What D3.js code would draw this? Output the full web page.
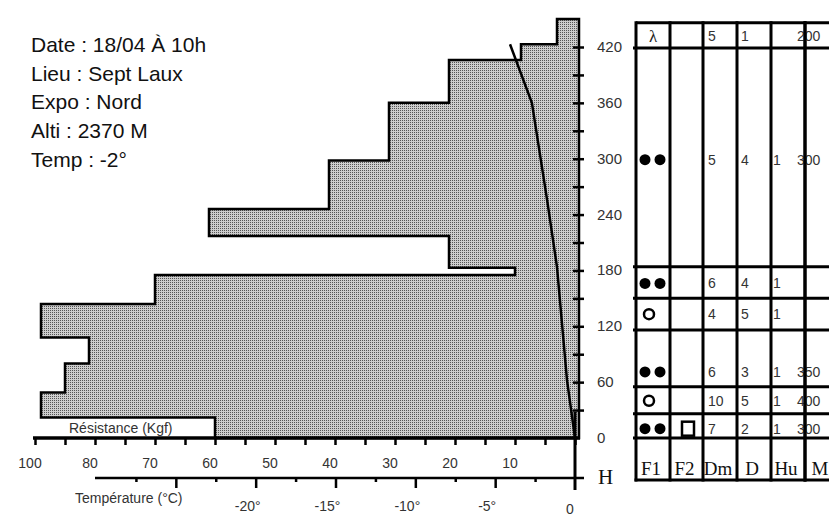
<!DOCTYPE html>
<html>
<head>
<meta charset="utf-8">
<script src="https://cdn.jsdelivr.net/npm/d3@7"></script>
<style>
  body { margin: 0; background: #fff; }
  svg { display: block; }
</style>
</head>
<body>
<svg id="chart"></svg>
<script>
// --- data ---
var infoLines = ["Date : 18/04 À 10h", "Lieu : Sept Laux", "Expo : Nord", "Alti : 2370 M", "Temp : -2°"];

// ram resistance profile (layer limits in cm, resistance in kgf)
var layerBottoms = [0, 22, 49, 80, 108, 144, 175, 183, 217, 246, 298, 360, 406, 423];
var layerTops    = [22, 49, 80, 108, 144, 175, 183, 217, 246, 298, 360, 406, 423, 450];
var resistance   = [60, 89, 85, 81, 89, 70, 10, 21, 61, 41, 31, 21, 9, 3];

// temperature profile
var tempHeights = [0, 62, 184, 256, 360, 423];
var tempValues  = [0, -0.5, -1.13, -1.75, -2.7, -4.07];

// axis ticks
var resTickValues = [90, 80, 70, 60, 50, 40, 30, 20, 10];
var resTickLabels = ["100", "80", "70", "60", "50", "40", "30", "20", "10"];
var tempTickValues = [-20, -15, -10, -5, 0];
var tempTickLabels = ["-20°", "-15°", "-10°", "-5°", "0"];
var heightTickValues = [0, 60, 120, 180, 240, 300, 360, 420];

// observation table (rows top -> bottom)
var tableColumns = ["F1", "F2", "Dm", "D", "Hu", "M"];
var rowTops    = [446, 419, 184, 150, 116, 55, 26];
var rowBottoms = [419, 184, 150, 116, 55, 26, 0];
var rowLabelH  = [432, 299, 166, 133, 71, 40, 10];
var rowF1 = ["lambda", "dots", "dots", "ring", "dots", "ring", "dots"];
var rowF2 = ["", "", "", "", "", "", "square"];
var rowDm = ["5", "5", "6", "4", "6", "10", "7"];
var rowD  = ["1", "4", "4", "5", "3", "5", "2"];
var rowHu = ["", "1", "1", "1", "1", "1", "1"];
var rowM  = ["200", "300", "", "", "350", "400", "300"];

// --- helpers ---
var addGroup = function(parent, id) {
    return parent.append("g").attr("id", id);
};
var drawLine = function(parent, color, width, x1, x2, y1, y2) {
    return parent.append("line")
        .attr("x1", x1).attr("x2", x2)
        .attr("y1", y1).attr("y2", y2)
        .attr("stroke", color)
        .attr("stroke-width", width);
};
var drawText = function(parent, txt, x, y, size, family, color, anchor) {
    return parent.append("text")
        .attr("x", x).attr("y", y)
        .attr("font-size", size)
        .attr("font-family", family)
        .attr("fill", color)
        .attr("text-anchor", anchor || "start")
        .text(txt);
};

var W = 829, H = 516;
var sans = "Arial, 'Liberation Sans', sans-serif";
var serif = "'Times New Roman', 'Liberation Serif', serif";
var labelColor = "#333";

var svg = d3.select("#chart").attr("width", W).attr("height", H);

// dotted grey fill (one dark pixel per 2x2 cell)
var pat = svg.append("defs").append("pattern")
    .attr("id", "dots")
    .attr("patternUnits", "userSpaceOnUse")
    .attr("x", 0).attr("y", 0)
    .attr("width", 2).attr("height", 2);
pat.append("rect").attr("width", 2).attr("height", 2).attr("fill", "#cdcdcd")
    .attr("shape-rendering", "crispEdges");
pat.append("rect").attr("x", 0).attr("y", 0).attr("width", 1).attr("height", 1).attr("fill", "#555")
    .attr("shape-rendering", "crispEdges");

// scales
var xRes = d3.scaleLinear().domain([0, 90]).range([575, 35]);
var yH = d3.scaleLinear().domain([0, 420]).range([438, 47]);
var xTemp = d3.scaleLinear().domain([-30, 0]).range([96, 575]);
var profileRight = xRes(0) + 4;

// --- info text ---
var info = addGroup(svg, "info");
infoLines.forEach(function(t, i) {
    drawText(info, t, 31, 52 + i * 28.7, 21, sans, "#111");
});

// --- resistance profile ---
var pts = [[profileRight, yH(0)]];
for (var i = 0; i < resistance.length; ++i) {
    pts.push([xRes(resistance[i]), yH(layerBottoms[i])]);
    pts.push([xRes(resistance[i]), yH(layerTops[i])]);
}
pts.push([profileRight, yH(layerTops[layerTops.length - 1])]);
svg.append("path")
    .attr("d", d3.line()(pts) + "Z")
    .attr("fill", "url(#dots)")
    .attr("stroke", "#000")
    .attr("stroke-width", 2.5)
    .attr("stroke-linejoin", "miter");

// temperature curve
svg.append("path")
    .datum(tempHeights.map(function(h, i) { return [h, tempValues[i]]; }))
    .attr("d", d3.line()
        .x(function(d) { return xTemp(d[1]); })
        .y(function(d) { return yH(d[0]); }))
    .attr("fill", "none")
    .attr("stroke", "#000")
    .attr("stroke-width", 2.5);

// --- resistance axis ---
var resAxis = addGroup(svg, "res-axis").attr("transform", "translate(0," + yH(0) + ")");
resAxis.call(d3.axisBottom(xRes).tickValues(d3.range(0, 91, 5)).tickSize(7).tickFormat(""));
resAxis.select(".domain").remove();
resAxis.selectAll("line").attr("stroke", "#000").attr("stroke-width", 2.5);
drawLine(resAxis, "#000", 3.5, xRes(90) - 2, profileRight + 1, 0, 0);
resTickValues.forEach(function(v, i) {
    drawText(resAxis, resTickLabels[i], xRes(v) - 5, 30, 14, sans, labelColor, "middle");
});
drawText(svg, "Résistance (Kgf)", 69, 433, 14, sans, labelColor);

// --- temperature axis ---
var tY = 478;
var tempAxis = addGroup(svg, "temp-axis").attr("transform", "translate(0," + tY + ")");
var major = addGroup(tempAxis, "major");
major.call(d3.axisBottom(xTemp).tickValues([-25, -20, -15, -10, -5]).tickSize(10).tickFormat(""));
var minor = addGroup(tempAxis, "minor");
minor.call(d3.axisBottom(xTemp).tickValues([-27.5, -22.5, -17.5, -12.5, -7.5, -2.5]).tickSize(4).tickFormat(""));
tempAxis.selectAll(".domain").remove();
tempAxis.selectAll("line").attr("stroke", "#000").attr("stroke-width", 2.5);
drawLine(tempAxis, "#000", 2.5, xTemp(-30) - 1, xTemp(0) + 9, 0, 0);
tempTickValues.forEach(function(v, i) {
    drawText(tempAxis, tempTickLabels[i], xTemp(v) - (v === 0 ? 5 : 8), v === 0 ? 36 : 33, 14, sans, labelColor, "middle");
});
drawText(svg, "Température (°C)", 75, 503, 14, sans, labelColor);

// H axis line (temperature zero)
drawLine(svg, "#000", 3, xTemp(0), xTemp(0), yH(0) - 26, 490);
drawText(svg, "H", 598, 484, 21, serif, "#111");

// --- height axis ---
var hAxis = addGroup(svg, "h-axis").attr("transform", "translate(" + (profileRight - 6) + ",0)");
hAxis.call(d3.axisRight(yH).tickValues(d3.range(30, 421, 30)).tickSize(11).tickFormat(""));
hAxis.select(".domain").remove();
hAxis.selectAll("line").attr("stroke", "#000").attr("stroke-width", 2.5);
heightTickValues.forEach(function(v) {
    drawText(svg, v, 597, yH(v) + 5, 15, sans, labelColor);
});

// --- table ---
var table = addGroup(svg, "table");
var colX = [636, 670, 703, 737, 771, 805, 839];
var headerBottom = 480;
var tableTop = yH(rowTops[0]);
colX.forEach(function(x) {
    drawLine(table, "#000", 3, x, x, tableTop - 1.5, headerBottom + 1.5);
});
drawLine(table, "#000", 3, colX[0], W, tableTop, tableTop);
rowBottoms.forEach(function(h) {
    drawLine(table, "#000", 3, 633, W, yH(h), yH(h));
});
drawLine(table, "#000", 3, colX[0] - 1.5, W, headerBottom, headerBottom);

tableColumns.forEach(function(c, i) {
    drawText(table, c, (colX[i] + colX[i + 1]) / 2 - 2, 475, 19, serif, "#111", "middle");
});

var textX = { Dm: 708, D: 741, Hu: 773, M: 797 };
rowF1.forEach(function(f, i) {
    var cy = yH(rowLabelH[i]);
    if (f === "dots") {
        table.append("circle").attr("cx", 645).attr("cy", cy).attr("r", 5.5).attr("fill", "#000");
        table.append("circle").attr("cx", 660).attr("cy", cy).attr("r", 5.5).attr("fill", "#000");
    } else if (f === "ring") {
        table.append("circle").attr("cx", 649).attr("cy", cy).attr("r", 5)
            .attr("fill", "none").attr("stroke", "#000").attr("stroke-width", 2.5);
    } else if (f === "lambda") {
        drawText(table, "λ", 653, cy + 6, 17, serif, "#222", "middle");
    }
    if (rowF2[i] === "square") {
        table.append("rect").attr("x", 682).attr("y", cy - 7).attr("width", 12).attr("height", 14)
            .attr("fill", "none").attr("stroke", "#000").attr("stroke-width", 2.5);
    }
    drawText(table, rowDm[i], textX.Dm, cy + 5, 14, sans, labelColor);
    drawText(table, rowD[i], textX.D, cy + 5, 14, sans, labelColor);
    drawText(table, rowHu[i], textX.Hu, cy + 5, 14, sans, labelColor);
    drawText(table, rowM[i], textX.M, cy + 5, 14, sans, labelColor);
});
// redraw M column line over the numbers, as in the original
drawLine(table, "#000", 3, colX[5], colX[5], tableTop - 1.5, headerBottom + 1.5);
</script>
</body>
</html>
